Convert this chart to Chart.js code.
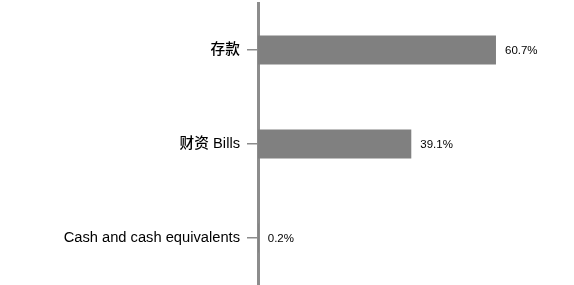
<!DOCTYPE html>
<html>
<head>
<meta charset="utf-8">
<script src="https://cdn.jsdelivr.net/npm/chart.js@4/dist/chart.umd.min.js"></script>
<style>
  html, body { margin: 0; padding: 0; background: #fff; }
  #wrap { width: 574px; height: 285px; }
</style>
</head>
<body>
<div id="wrap"><canvas id="myChart"></canvas></div>
<script>
const categories = ['存款', '财资 Bills', 'Cash and cash equivalents'];
const values = [60.7, 39.1, 0.2];
const valueLabels = ['60.7%', '39.1%', '0.2%'];

const FONT = '"Liberation Sans", Arial, "Noto Sans CJK SC", sans-serif';

// draws the percentage next to each bar
const valueLabelPlugin = {
  id: 'valueLabels',
  afterDatasetsDraw(chart) {
    const ctx = chart.ctx;
    const meta = chart.getDatasetMeta(0);
    ctx.save();
    ctx.font = '11.5px ' + FONT;
    ctx.fillStyle = '#000';
    ctx.textAlign = 'left';
    ctx.textBaseline = 'middle';
    meta.data.forEach((bar, i) => {
      ctx.fillText(valueLabels[i], bar.x + 9, bar.y + 1);
    });
    ctx.restore();
  }
};

const chartElement = document.getElementById('myChart').getContext('2d');
new Chart(chartElement, {
  type: 'bar',
  data: {
    labels: categories,
    datasets: [{
      data: values,
      backgroundColor: '#808080',
      borderWidth: 0,
      barPercentage: 0.62,
      categoryPercentage: 0.5
    }]
  },
  options: {
    indexAxis: 'y',
    responsive: true,
    maintainAspectRatio: false,
    animation: false,
    layout: { padding: { top: 3, right: 0, bottom: 0, left: 0 } },
    plugins: {
      legend: { display: false },
      tooltip: { enabled: false }
    },
    scales: {
      x: {
        display: false,
        min: 0,
        max: 80.6
      },
      y: {
        afterFit(scale) {
          scale.width = 258;
          scale.paddingTop = 0;
          scale.paddingBottom = 0;
        },
        grid: {
          display: true,
          drawOnChartArea: false,
          drawTicks: true,
          offset: false,
          tickLength: 11,
          color: '#8c8c8c',
          lineWidth: 1.5
        },
        border: { display: true, color: '#8c8c8c', width: 3 },
        ticks: {
          color: '#000',
          padding: 7,
          font: { family: FONT, size: 14.7, weight: '500' }
        }
      }
    }
  },
  plugins: [valueLabelPlugin]
});
</script>
</body>
</html>
